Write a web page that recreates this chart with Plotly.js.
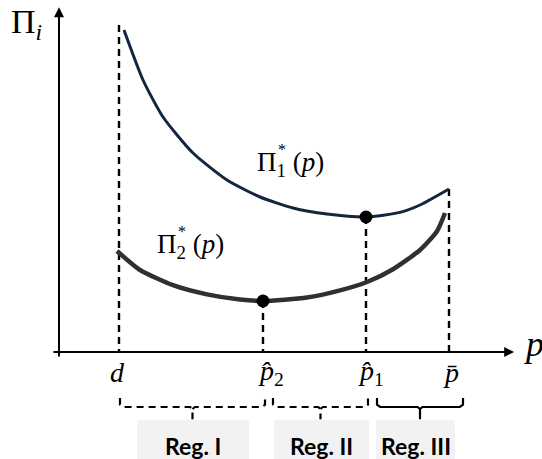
<!DOCTYPE html>
<html>
<head>
<meta charset="utf-8">
<script src="https://cdn.plot.ly/plotly-3.0.1.min.js"></script>
<style>
  html, body { margin: 0; padding: 0; background: #fff; }
  #chart { width: 542px; height: 459px; }
</style>
</head>
<body>
<div id="chart"></div>
<script>
// price marks on the p axis: d, p-hat-2, p-hat-1, p-bar
const markNames = ['d', 'p2hat', 'p1hat', 'pbar'];
const markValues = [1.5, 5.1, 7.675, 9.75];
const markLabels = ['<i>d</i>', '<i>p\u0302</i><sub>2</sub>', '<i>p\u0302</i><sub>1</sub>', '<i>p\u0304</i>'];
const dLineTop = 8.175;

// profit curve of firm 1, Pi*_1(p)
const p1 = [1.625, 2.1, 2.6, 3.35, 4.2, 5.025, 5.85, 6.7, 7.675, 8.525, 9.025, 9.75];
const pi1 = [8.05, 6.8, 5.875, 4.975, 4.3, 3.875, 3.6, 3.45, 3.375, 3.49, 3.675, 4.075];

// profit curve of firm 2, Pi*_2(p)
const p2 = [1.45, 2.025, 2.85, 3.7, 4.525, 5.1, 6.2, 7.025, 7.7, 8.35, 9.025, 9.45, 9.65];
const pi2 = [2.525, 2.05, 1.67, 1.44, 1.31, 1.275, 1.36, 1.54, 1.75, 2.07, 2.55, 3.02, 3.475];

// regions below the axis
const regionNames = ['Reg. I', 'Reg. II', 'Reg. III'];
const regionFrom = [1.525, 5.35, 7.95];
const regionTo = [5.15, 7.725, 10.1];
const regionBoxFrom = [1.95, 5.375, 7.925];
const regionBoxTo = [4.75, 7.75, 9.9];
const regionDashed = [true, true, false];

const serif = "'Liberation Serif', 'Times New Roman', Times, serif";

// optimum points
const opt1 = pi1[p1.indexOf(markValues[2])];
const opt2 = pi2[p2.indexOf(markValues[1])];
const tops = [dLineTop, opt2, opt1, pi1[pi1.length - 1]];

function dropLines() {
    const x = [], y = [];
    markValues.forEach((v, i) => {
        x.push(v, v, null);
        y.push(tops[i], 0, null);
    });
    return {
        x, y, mode: 'lines', hoverinfo: 'skip',
        line: { color: '#000', width: 2.4, dash: '7px,5px' }
    };
}

function bracket(i) {
    const a = regionFrom[i], b = regionTo[i], m = (a + b) / 2;
    const yTop = -1.15, yMid = -1.375, yEnd = -1.68;
    return {
        x: [a, a, a + 0.08, m - 0.06, m, m, null, m, m + 0.06, b - 0.08, b, b],
        y: [yTop, yMid + 0.06, yMid, yMid, yMid - 0.05, yEnd, null, yMid - 0.05, yMid, yMid, yMid + 0.06, yTop],
        mode: 'lines', hoverinfo: 'skip',
        line: { color: '#000', width: 2.2, dash: regionDashed[i] ? '7px,5px' : 'solid' }
    };
}

const data = [
    dropLines(),
    {
        x: p1, y: pi1, mode: 'lines', hoverinfo: 'skip',
        line: { color: '#14263f', width: 3, shape: 'spline', smoothing: 0.6 }
    },
    {
        x: p2, y: pi2, mode: 'lines', hoverinfo: 'skip',
        line: { color: '#303030', width: 4.5, shape: 'spline', smoothing: 0.6 }
    },
    {
        x: [markValues[1], markValues[2]], y: [opt2, opt1], mode: 'markers', hoverinfo: 'skip',
        marker: { color: '#000', size: 13 }
    }
];
regionNames.forEach((_, i) => data.push(bracket(i)));

const shapes = regionNames.map((_, i) => ({
    type: 'rect', layer: 'below',
    x0: regionBoxFrom[i], x1: regionBoxTo[i], y0: -1.7, y1: -2.9,
    fillcolor: '#f2f2f2', line: { width: 0 }
}));

function curveLabel(x, y, n) {
    return [
        { x: x, y: y, xanchor: 'left', text: '\u03a0<sub>' + n + '</sub> (<i>p</i>)', showarrow: false,
          font: { family: serif, size: 27, color: '#000' } },
        { x: x + 0.52, y: y + 0.36, xanchor: 'left', text: '*', showarrow: false,
          font: { family: serif, size: 16, color: '#000' } }
    ];
}

const annotations = [
    // axes with arrow heads
    { x: 0, y: 8.62, ax: 0, ay: -0.15, axref: 'x', ayref: 'y', text: '', showarrow: true,
      arrowhead: 2, arrowsize: 1, arrowwidth: 2, arrowcolor: '#000' },
    { x: 11.38, y: 0, ax: -0.175, ay: 0, axref: 'x', ayref: 'y', text: '', showarrow: true,
      arrowhead: 2, arrowsize: 1, arrowwidth: 2, arrowcolor: '#000' },
    { x: -0.825, y: 8.2, text: '\u03a0<sub><i>i</i></sub>', showarrow: false,
      font: { family: serif, size: 34, color: '#000' } },
    { x: 11.55, y: 0.2, xanchor: 'left', text: '<i>p</i>', showarrow: false,
      font: { family: serif, size: 36, color: '#000' } },
    ...curveLabel(4.9, 4.7, 1),
    ...curveLabel(2.4, 2.65, 2)
];

const labelShift = [-0.05, 0.2, 0.12, 0.05];
markValues.forEach((v, i) => {
    annotations.push({
        x: v + labelShift[i], y: -0.5, text: markLabels[i], showarrow: false,
        font: { family: serif, size: 28, color: '#000' }
    });
});

regionNames.forEach((name, i) => {
    annotations.push({
        x: (regionBoxFrom[i] + regionBoxTo[i]) / 2, y: -2.35, text: '<b>' + name + '</b>',
        showarrow: false, font: { family: 'Lato, Liberation Sans, sans-serif', size: 23, color: '#000' }
    });
});

const layout = {
    width: 542, height: 459,
    margin: { l: 0, r: 0, t: 0, b: 0 },
    paper_bgcolor: '#fff', plot_bgcolor: '#fff',
    showlegend: false,
    xaxis: { range: [-1.475, 12.075], visible: false, fixedrange: true },
    yaxis: { range: [-2.675, 8.8], visible: false, fixedrange: true },
    shapes, annotations
};

Plotly.newPlot('chart', data, layout, { displayModeBar: false, staticPlot: true });
</script>
</body>
</html>
